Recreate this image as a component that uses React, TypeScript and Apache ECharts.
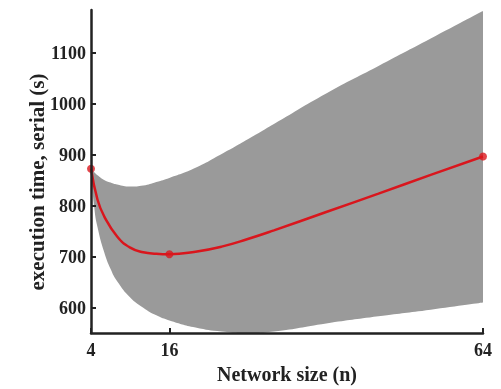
import React, { useEffect, useRef } from "react";
import * as echarts from "echarts";

const bandX = [4, 4.5, 5, 6, 7, 8, 10, 12, 14, 16, 20, 24, 28, 32, 40, 48, 56, 64];
const bandLower = [873, 797, 758, 710, 676, 652, 620, 600, 585, 575, 561, 553, 550, 553, 569, 583, 596, 610];
const bandUpper = [873, 866, 860, 851, 846, 842, 838, 840, 847, 855, 875, 902, 931, 961, 1021, 1075, 1129, 1183];

const curveX = [4, 5, 6, 8, 10, 12, 14, 16, 20, 24, 28, 32, 40, 48, 56, 64];
const curveY = [873, 812, 780, 740, 718, 709, 706, 705, 710, 720, 735, 752, 788, 824, 861, 897];

const pointX = [4, 16, 64];
const pointY = [873, 705, 897];

const xTicks = [4, 16, 64];
const yTicks = [600, 700, 800, 900, 1000, 1100];

const FONT = "'Liberation Serif', 'Times New Roman', serif";

export default function App() {
  const ref = useRef<HTMLDivElement>(null);
  useEffect(() => {
    if (!ref.current) return;
    const chart = echarts.init(ref.current, null, { renderer: "svg" });
    chart.setOption({
      animation: false,
      grid: { left: 91, right: 18, top: 10, bottom: 46 },
      xAxis: {
        type: "value",
        min: 4,
        max: 64,
        name: "Network size (n)",
        nameLocation: "middle",
        nameGap: 29,
        nameTextStyle: { fontFamily: FONT, fontWeight: "bold", fontSize: 20, color: "#222" },
        axisLine: { show: true, onZero: false, lineStyle: { color: "#222", width: 2.5 } },
        axisTick: { show: true, inside: true, length: 5, customValues: xTicks, lineStyle: { color: "#222", width: 2 } },
        axisLabel: { customValues: xTicks, fontFamily: FONT, fontWeight: "bold", fontSize: 18, color: "#222", margin: 8 },
        splitLine: { show: false },
        z: 10,
      },
      yAxis: {
        type: "value",
        min: 550,
        max: 1185,
        axisLine: { show: true, onZero: false, lineStyle: { color: "#222", width: 2.5 } },
        axisTick: { show: true, inside: true, length: 5, customValues: yTicks, lineStyle: { color: "#222", width: 2 } },
        axisLabel: {
          customValues: yTicks,
          formatter: (v: number) => String(v),
          fontFamily: FONT,
          fontWeight: "bold",
          fontSize: 18,
          color: "#222",
          margin: 5,
        },
        splitLine: { show: false },
        z: 10,
      },
      graphic: [
        {
          type: "text",
          x: 37,
          y: 182,
          rotation: Math.PI / 2,
          z: 20,
          style: {
            text: "execution time, serial (s)",
            font: `bold 21px ${FONT}`,
            fill: "#222",
            textAlign: "center",
            textVerticalAlign: "middle",
          },
        },
      ],
      series: [
        {
          type: "line",
          data: bandX.map((x, i) => [x, bandUpper[i]]),
          smooth: true,
          symbol: "none",
          lineStyle: { width: 0, opacity: 0 },
          areaStyle: { color: "#9a9a9a", opacity: 1, origin: "start" },
          silent: true,
          z: 1,
        },
        {
          type: "line",
          data: bandX.map((x, i) => [x, bandLower[i]]),
          smooth: true,
          symbol: "none",
          lineStyle: { width: 0, opacity: 0 },
          areaStyle: { color: "#ffffff", opacity: 1, origin: "start" },
          silent: true,
          z: 2,
        },
        {
          type: "line",
          data: curveX.map((x, i) => [x, curveY[i]]),
          smooth: true,
          symbol: "none",
          lineStyle: { color: "#d9161d", width: 2.5 },
          z: 3,
        },
        {
          type: "scatter",
          data: pointX.map((x, i) => [x, pointY[i]]),
          symbolSize: 8,
          itemStyle: { color: "#d9161d" },
          z: 4,
        },
      ],
    });
    return () => chart.dispose();
  }, []);
  return <div ref={ref} style={{ position: "fixed", left: 0, top: 0, width: 501, height: 389 }} />;
}
